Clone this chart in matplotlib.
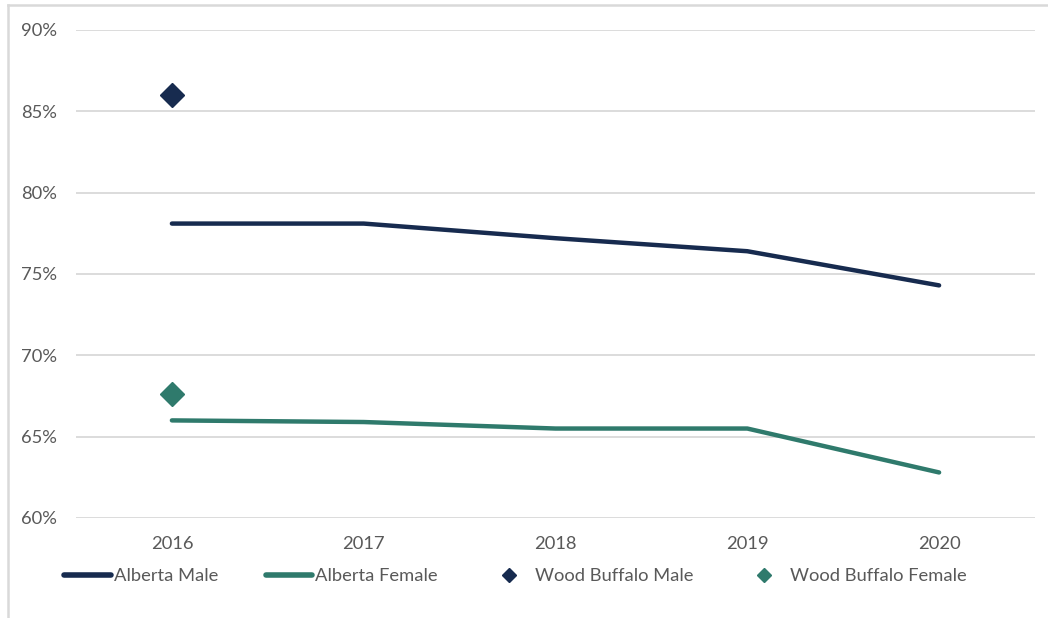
import matplotlib
matplotlib.use("Agg")
import matplotlib.pyplot as plt
from matplotlib.lines import Line2D
from matplotlib.ticker import FuncFormatter

plt.rcParams['font.family'] = ['Lato', 'DejaVu Sans']

years = ['2016', '2017', '2018', '2019', '2020']
alberta_male = [78.1, 78.1, 77.2, 76.4, 74.3]
alberta_female = [66.0, 65.9, 65.5, 65.5, 62.8]
wb_years = ['2016']
wood_buffalo_male = [86.0]
wood_buffalo_female = [67.6]

navy = '#172b4f'
teal = '#2f7a6c'
grid_c = '#d9d9d9'
text_c = '#595959'
fs = 13.2

fig = plt.figure(figsize=(10.48, 6.18), dpi=100)
ax = fig.add_axes([76/1048, 1-518/618, (1035-76)/1048, (518-30)/618])

x = list(range(len(years)))
ax.plot(x, alberta_male, color=navy, lw=3.2, solid_capstyle='round', label='Alberta Male', zorder=3)
ax.plot(x, alberta_female, color=teal, lw=3.2, solid_capstyle='round', label='Alberta Female', zorder=3)
wx = [years.index(y) for y in wb_years]
ax.plot(wx, wood_buffalo_male, ls='none', marker='D', ms=12, color=navy, label='Wood Buffalo Male', zorder=4)
ax.plot(wx, wood_buffalo_female, ls='none', marker='D', ms=12, color=teal, label='Wood Buffalo Female', zorder=4)

ax.set_xlim(-0.5, 4.5)
ax.set_ylim(60, 90)
ax.set_yticks(range(60, 91, 5))
ax.yaxis.set_major_formatter(FuncFormatter(lambda v, p: f'{int(v)}%'))
ax.set_xticks(x)
ax.set_xticklabels(years)
ax.grid(axis='y', color=grid_c, lw=1.3)
ax.set_axisbelow(True)
for s in ax.spines.values():
    s.set_visible(False)
ax.tick_params(axis='both', length=0, labelsize=fs, labelcolor=text_c)
ax.tick_params(axis='y', pad=13.7)
ax.tick_params(axis='x', pad=13)

handles = [
    Line2D([], [], color=navy, lw=4, solid_capstyle='round'),
    Line2D([], [], color=teal, lw=4, solid_capstyle='round'),
    Line2D([], [], ls='none', marker='D', ms=7, color=navy),
    Line2D([], [], ls='none', marker='D', ms=7, color=teal),
]
labels = ['Alberta Male', 'Alberta Female', 'Wood Buffalo Male', 'Wood Buffalo Female']
leg = fig.legend(handles, labels, ncol=4, loc='center left',
                 bbox_to_anchor=(64/1048, 1-576/618), frameon=False,
                 fontsize=fs, handlelength=2.55, handletextpad=0.15,
                 columnspacing=2.6, borderaxespad=0, borderpad=0)
for t in leg.get_texts():
    t.set_color(text_c)

# outer chart frame (top and left edges visible)
fig.add_artist(Line2D([8/1048, 1], [1-5/618, 1-5/618], transform=fig.transFigure, color=grid_c, lw=1.8))
fig.add_artist(Line2D([8/1048, 8/1048], [0, 1-5/618], transform=fig.transFigure, color=grid_c, lw=1.8))

fig.savefig('out.png', dpi=100)
